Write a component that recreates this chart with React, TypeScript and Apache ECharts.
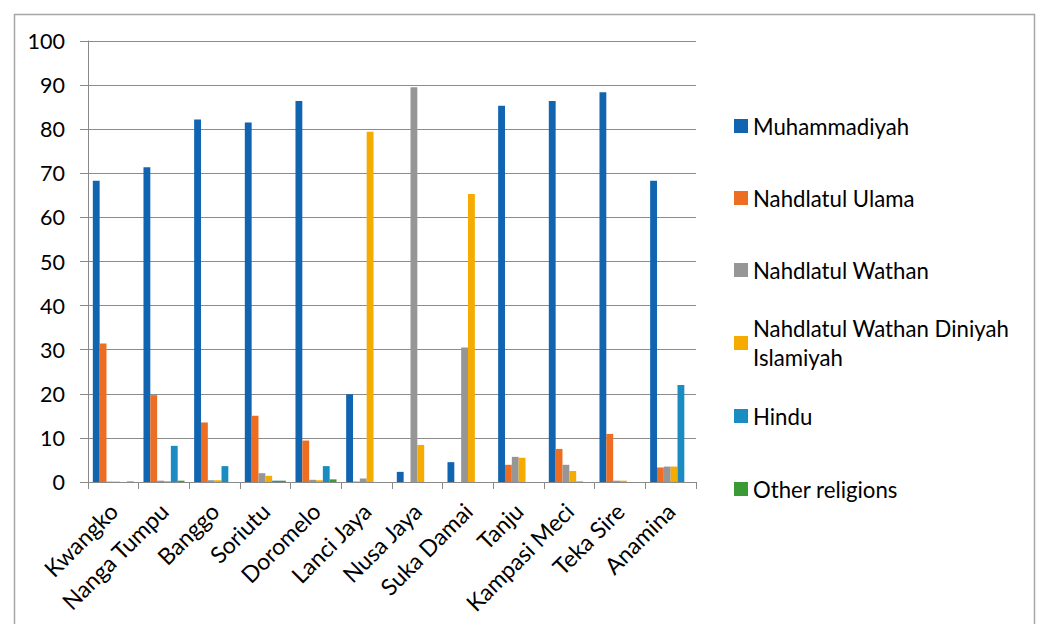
import React, { useEffect, useRef } from "react";
import * as echarts from "echarts";

const categories = [
  "Kwangko", "Nanga Tumpu", "Banggo", "Soriutu", "Doromelo", "Lanci Jaya",
  "Nusa Jaya", "Suka Damai", "Tanju", "Kampasi Meci", "Teka Sire", "Anamina",
];
const seriesNames = [
  "Muhammadiyah", "Nahdlatul Ulama", "Nahdlatul Wathan",
  "Nahdlatul Wathan Diniyah Islamiyah", "Hindu", "Other religions",
];
const muhammadiyah = [68.3, 71.4, 82.2, 81.5, 86.4, 19.9, 2.3, 4.5, 85.3, 86.4, 88.4, 68.3];
const nahdlatulUlama = [31.4, 19.7, 13.5, 15.0, 9.4, 0.1, 0, 0, 3.9, 7.5, 10.9, 3.3];
const nahdlatulWathan = [0.1, 0.3, 0.4, 2.0, 0.5, 0.8, 89.5, 30.5, 5.7, 3.9, 0.3, 3.5];
const nwdi = [0.1, 0.2, 0.4, 1.4, 0.4, 79.4, 8.4, 65.3, 5.5, 2.5, 0.3, 3.5];
const hindu = [0, 8.2, 3.6, 0.3, 3.6, 0, 0, 0, 0, 0.1, 0, 22.0];
const otherReligions = [0.1, 0.3, 0, 0.3, 0.6, 0, 0, 0, 0, 0, 0, 0];
const yTicks = { min: 0, max: 100, interval: 10 };

const seriesValues = [muhammadiyah, nahdlatulUlama, nahdlatulWathan, nwdi, hindu, otherReligions];
const colors = ["#1064B0", "#ED6E22", "#969696", "#F5AB00", "#1A8CC1", "#3A9A36"];
const legendCenters = [126, 198, 270, 343, 416, 489];

const FONT = "Lato";

export default function App() {
  const ref = useRef<HTMLDivElement>(null);
  useEffect(() => {
    document.body.style.margin = "0";
    const chart = echarts.init(ref.current!, null, { renderer: "svg" });
    const L = 29;
    const legends = seriesNames.map((name, i) => {
      const isMulti = i === 3;
      return {
        data: [name],
        orient: "vertical",
        left: 734,
        top: isMulti ? legendCenters[i] - 1.5 * L : legendCenters[i] - L / 2,
        padding: 0,
        itemWidth: 14,
        itemHeight: 14,
        icon: "rect",
        selectedMode: false,
        formatter: isMulti ? () => "Nahdlatul Wathan Diniyah\nIslamiyah" : undefined,
        textStyle: {
          fontFamily: FONT,
          fontSize: 22.2,
          color: "#000",
          lineHeight: L,
          padding: isMulti ? [L, 0, 0, 0] : 0,
        },
      };
    });
    chart.setOption({
      animation: false,
      color: colors,
      textStyle: { fontFamily: FONT },
      legend: legends,
      grid: { left: 88, right: 342, top: 41, bottom: 142, containLabel: false },
      xAxis: {
        type: "category",
        data: categories,
        axisLine: { lineStyle: { color: "#898989", width: 1 } },
        axisTick: { show: true, length: 7, lineStyle: { color: "#898989" } },
        axisLabel: {
          interval: 0,
          rotate: 45,
          margin: 25,
          fontFamily: FONT,
          fontSize: 23,
          color: "#000",
        },
      },
      yAxis: {
        type: "value",
        min: yTicks.min,
        max: yTicks.max,
        interval: yTicks.interval,
        axisLine: { show: true, lineStyle: { color: "#898989" } },
        axisTick: { show: true, length: 8, lineStyle: { color: "#898989" } },
        axisLabel: { margin: 23, fontFamily: FONT, fontSize: 21.5, color: "#000" },
        splitLine: { lineStyle: { color: "#8c8c8c", width: 1 } },
      },
      series: seriesNames.map((name, i) => ({
        name,
        type: "bar",
        data: seriesValues[i],
        barGap: "0%",
        barCategoryGap: "19%",
        itemStyle: { color: colors[i] },
      })),
      graphic: [
        {
          type: "rect",
          shape: { x: 14.5, y: 14.5, width: 1020, height: 700 },
          style: { fill: "none", stroke: "#a6a6a6", lineWidth: 1.5 },
          silent: true,
        },
      ],
    });
    return () => chart.dispose();
  }, []);
  return <div ref={ref} style={{ width: 1038, height: 624 }} />;
}
